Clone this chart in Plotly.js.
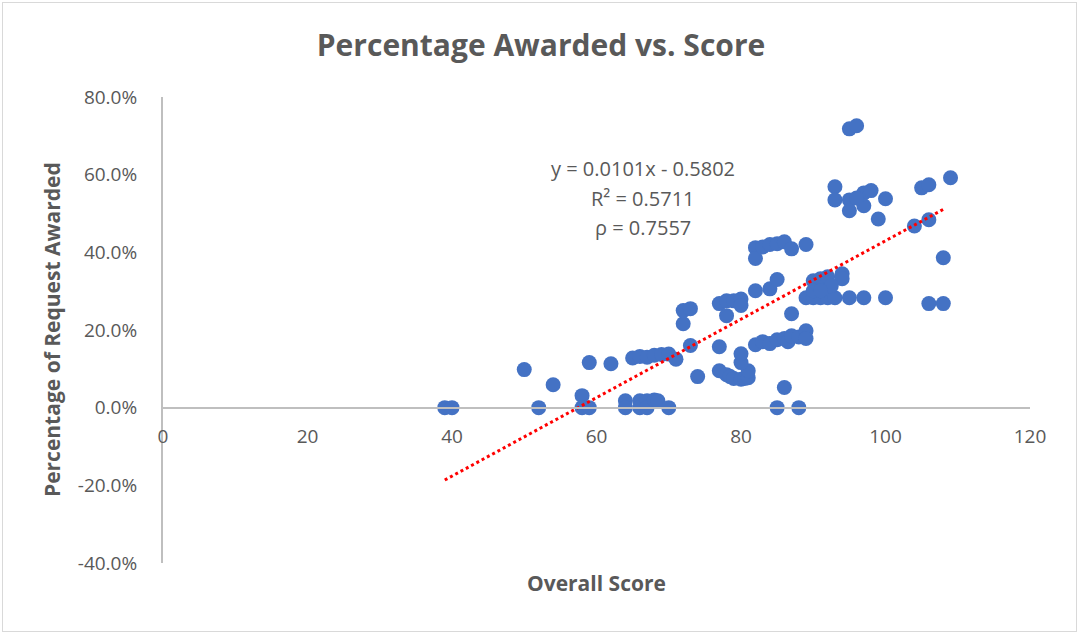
<!DOCTYPE html>
<html>
<head>
<meta charset="utf-8">
<script src="https://cdn.plot.ly/plotly-3.0.1.min.js"></script>
<style>
html,body{margin:0;padding:0;background:#fff;}
#wrap{position:relative;width:1082px;height:636px;}
#frame{position:absolute;left:2px;top:2px;width:1073px;height:628px;border:1.5px solid #d9d9d9;pointer-events:none;z-index:5;}
#chart{position:absolute;left:0;top:0;width:1082px;height:636px;}
</style>
</head>
<body>
<div id="wrap"><div id="chart"></div><div id="frame"></div></div>
<script>
// Overall score of each application
const scores = [
  39, 40, 50, 52, 54, 58, 58, 59, 59, 62, 64, 64,
  66, 66, 67, 67, 68, 68.5, 70,
  65, 66, 67, 68, 69, 70, 71,
  73, 72, 72, 73, 74,
  77, 77, 78, 78.5, 79, 80, 80.5, 81, 81, 80, 80,
  77, 78, 79, 80, 80, 78,
  82, 84, 85, 87,
  82, 82, 83, 84, 85, 86, 87, 89,
  82, 83, 84, 85, 86, 86.5, 87, 88, 89, 89,
  86, 85, 88,
  89, 90, 91, 92, 93, 95, 97, 100,
  90, 91, 92, 94, 94, 92.5, 90, 91,
  93, 93, 95, 95, 97, 98, 97, 100, 99, 96,
  95, 96, 104, 106, 105, 106, 109, 108, 106, 108
];
// Fraction of the request that was awarded
const awarded = [
  0, 0, 0.098, 0, 0.059, 0.031, 0, 0, 0.116, 0.113, 0.018, 0,
  0.018, 0, 0.018, 0, 0.02, 0.018, 0,
  0.128, 0.132, 0.13, 0.135, 0.137, 0.138, 0.125,
  0.16, 0.216, 0.25, 0.255, 0.08,
  0.157, 0.095, 0.085, 0.08, 0.075, 0.073, 0.075, 0.077, 0.095, 0.116, 0.139,
  0.268, 0.275, 0.275, 0.28, 0.263, 0.237,
  0.301, 0.306, 0.33, 0.242,
  0.412, 0.384, 0.414, 0.42, 0.422, 0.427, 0.409, 0.42,
  0.162, 0.17, 0.165, 0.175, 0.178, 0.17, 0.185, 0.182, 0.198, 0.178,
  0.052, 0, 0,
  0.283, 0.283, 0.283, 0.283, 0.283, 0.283, 0.283, 0.283,
  0.327, 0.332, 0.337, 0.345, 0.332, 0.314, 0.301, 0.301,
  0.569, 0.535, 0.535, 0.507, 0.553, 0.559, 0.52, 0.538, 0.486, 0.54,
  0.718, 0.726, 0.468, 0.484, 0.566, 0.574, 0.592, 0.386, 0.268, 0.268
];
// Linear trendline (Excel): y = slope*x + intercept
const trendSlope = 0.0101;
const trendIntercept = -0.5802;
const trendRange = [39, 108];
const statLines = ["y = 0.0101x - 0.5802", "R² = 0.5711", "ρ = 0.7557"];
const xTicks = [0, 20, 40, 60, 80, 100, 120];
const yTicks = [-0.4, -0.2, 0, 0.2, 0.4, 0.6, 0.8];

const trendY = trendRange.map(x => trendSlope * x + trendIntercept);
const txt = '#595959';
const font = 'Open Sans, Noto Sans, sans-serif';

const data = [
  {
    x: scores, y: awarded, type: 'scatter', mode: 'markers',
    marker: {color: '#4472C4', size: 15, line: {width: 0}},
    hoverinfo: 'x+y', showlegend: false
  },
  {
    x: trendRange, y: trendY, type: 'scatter', mode: 'lines',
    line: {color: '#FF0000', width: 3, dash: 'dot'},
    showlegend: false, hoverinfo: 'skip'
  }
];

const statY = [0.615, 0.538, 0.463];
const annotations = statLines.map((t, i) => ({
  text: t, x: 66.4, y: statY[i], xref: 'x', yref: 'y', showarrow: false,
  xanchor: 'center', yanchor: 'middle', font: {family: font, size: 20, color: txt}
}));
annotations.push({
  text: '<b>Overall Score</b>', xref: 'paper', yref: 'paper', x: 0.5, y: -0.043,
  xanchor: 'center', yanchor: 'middle', showarrow: false,
  font: {family: font, size: 21, color: txt}
});
annotations.push({
  text: '<b>Percentage of Request Awarded</b>', xref: 'paper', yref: 'paper', x: -0.128, y: 0.5,
  xanchor: 'center', yanchor: 'middle', textangle: -90, showarrow: false,
  font: {family: font, size: 21, color: txt}
});

const layout = {
  width: 1082, height: 636,
  margin: {l: 163, r: 52, t: 97, b: 73},
  paper_bgcolor: '#ffffff', plot_bgcolor: '#ffffff',
  title: {text: '<b>Percentage Awarded vs. Score</b>', x: 0.5, xref: 'container', y: 0.928, yref: 'container',
          xanchor: 'center', yanchor: 'middle',
          font: {family: font, size: 30, color: txt}},
  xaxis: {
    range: [0, 120], tickvals: xTicks, ticktext: xTicks.map(String),
    showgrid: false, zeroline: false, showline: true, linecolor: '#bfbfbf', linewidth: 2,
    anchor: 'free', position: 1/3, ticks: '', ticklabelstandoff: 12,
    tickfont: {family: font, size: 19, color: txt}
  },
  yaxis: {
    range: [-0.4, 0.8], tickvals: yTicks, ticktext: yTicks.map(v => (v * 100).toFixed(1) + '%'),
    showgrid: false, zeroline: false, showline: true, linecolor: '#bfbfbf', linewidth: 2,
    ticks: '', ticklabelstandoff: 20,
    tickfont: {family: font, size: 19, color: txt}
  },
  annotations: annotations,
  showlegend: false
};

Plotly.newPlot('chart', data, layout, {displayModeBar: false, staticPlot: true});
</script>
</body>
</html>
